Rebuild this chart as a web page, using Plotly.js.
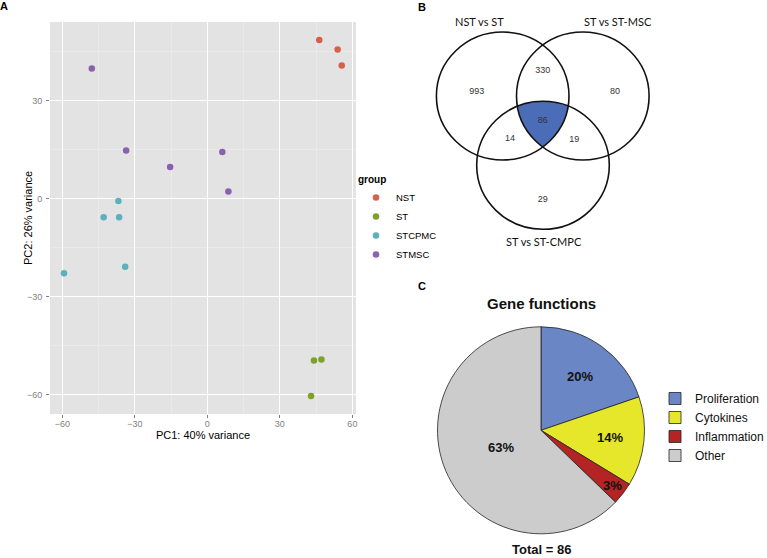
<!DOCTYPE html>
<html><head><meta charset="utf-8">
<script src="https://cdn.plot.ly/plotly-3.0.1.min.js"></script>
<style>html,body{margin:0;padding:0;background:#fff}</style>
</head><body><div id="chart" style="width:767px;height:558px"></div>
<script>
// ---------- Panel A: PCA data ----------
const groups = ['NST', 'ST', 'STCPMC', 'STMSC'];
const nstPC1 = [46.3, 53.9, 55.6];
const nstPC2 = [48.5, 45.6, 40.7];
const stPC1 = [44.1, 47.2, 42.9];
const stPC2 = [-49.6, -49.3, -60.5];
const stcpmcPC1 = [-36.8, -42.9, -36.5, -34.0, -59.3];
const stcpmcPC2 = [-0.8, -5.8, -5.8, -20.9, -22.9];
const stmscPC1 = [-47.8, -33.6, -15.4, 6.2, 8.7];
const stmscPC2 = [39.8, 14.7, 9.6, 14.2, 2.1];
const pcTicks = [-60, -30, 0, 30, 60];

// ---------- Panel B: Venn counts ----------
const vennSets = ['NST vs ST', 'ST vs ST-MSC', 'ST vs ST-CMPC'];
const vennRegions = ['1', '12', '2', '123', '13', '23', '3'];
const vennCounts = [993, 330, 80, 86, 14, 19, 29];

// ---------- Panel C: gene functions ----------
const funcLabels = ['Proliferation', 'Cytokines', 'Inflammation', 'Other'];
const funcCounts = [17, 12, 3, 54];
const totalGenes = 86;

// ---------- layout geometry (pixels) ----------
const W = 767, H = 558;
const px = x => x / W, py = y => 1 - y / H;
const groupColors = ['#d7604d', '#7ca22a', '#5cb0bd', '#8b61ad'];
const funcColors = ['#6a86c4', '#e6e62a', '#b42424', '#cccccc'];
const circles = [
  {cx: 502.7, cy: 96, rx: 66.3, ry: 64},
  {cx: 582.8, cy: 96, rx: 66.3, ry: 64},
  {cx: 543.0, cy: 165.3, rx: 66.3, ry: 64}
];
const regionPos = {'1': [476.7, 91.7], '12': [542.7, 71], '2': [615, 92], '123': [542.7, 121],
                   '13': [510, 138.3], '23': [574.3, 140], '3': [542.7, 200]};
const setLabelPos = [[480, 21.7], [618.3, 21.7], [544, 241.7]];
const pieLabelRadius = [0.64, 0.67, 0.87, 0.42];

const F = 'Liberation Sans, Arial, sans-serif';
const traces = [];
const pcX = [nstPC1, stPC1, stcpmcPC1, stmscPC1];
const pcY = [nstPC2, stPC2, stcpmcPC2, stmscPC2];
groups.forEach((g, i) => {
  traces.push({type: 'scatter', mode: 'markers', name: g, x: pcX[i], y: pcY[i],
    xaxis: 'x', yaxis: 'y', legend: 'legend',
    marker: {color: groupColors[i], size: 6.5}});
});

// Venn triple intersection region (computed from circle geometry)
function inside(c, x, y) { return ((x - c.cx) / c.rx) ** 2 + ((y - c.cy) / c.ry) ** 2 <= 1 + 1e-9; }
let pts = [];
circles.forEach((c, i) => {
  const N = 3000;
  for (let k = 0; k < N; k++) {
    const t = 2 * Math.PI * k / N;
    const x = c.cx + c.rx * Math.cos(t), y = c.cy + c.ry * Math.sin(t);
    if (circles.every((d, j) => j === i || inside(d, x, y))) pts.push([x, y]);
  }
});
const mx = pts.reduce((s, p) => s + p[0], 0) / pts.length;
const my = pts.reduce((s, p) => s + p[1], 0) / pts.length;
pts.sort((a, b) => Math.atan2(a[1] - my, a[0] - mx) - Math.atan2(b[1] - my, b[0] - mx));
pts.push(pts[0]);
traces.push({type: 'scatter', mode: 'lines', x: pts.map(p => p[0]), y: pts.map(p => p[1]),
  xaxis: 'x2', yaxis: 'y2', fill: 'toself', fillcolor: '#4b6cb7', line: {width: 0},
  showlegend: false, hoverinfo: 'skip'});
traces.push({type: 'scatter', mode: 'text', xaxis: 'x2', yaxis: 'y2', showlegend: false,
  x: vennRegions.map(r => regionPos[r][0]), y: vennRegions.map(r => regionPos[r][1]),
  text: vennCounts.map(String), textfont: {family: F, size: 9, color: '#333'}, hoverinfo: 'skip'});

// Pie
const pcx = 541, pcy = 430.3, pr = 103.5;
traces.push({type: 'pie', labels: funcLabels, values: funcCounts, sort: false,
  direction: 'clockwise', rotation: 0, legend: 'legend2',
  marker: {colors: funcColors, line: {color: '#222', width: 0.8}},
  textinfo: 'none',
  domain: {x: [px(pcx - pr), px(pcx + pr)], y: [py(pcy + pr), py(pcy - pr)]},
  hoverinfo: 'label+value'});

const shapes = [{type: 'rect', xref: 'x domain', yref: 'y domain', x0: 0, x1: 1, y0: 0, y1: 1,
  fillcolor: '#e3e3e3', line: {width: 0}, layer: 'below'}];
circles.forEach(c => shapes.push({type: 'circle', xref: 'x2', yref: 'y2',
  x0: c.cx - c.rx, x1: c.cx + c.rx, y0: c.cy - c.ry, y1: c.cy + c.ry,
  line: {color: '#111', width: 1.6}, fillcolor: 'rgba(0,0,0,0)'}));

const annotations = [
  {text: '<b>A</b>', x: px(4), y: py(6)},
  {text: '<b>B</b>', x: px(422), y: py(7)},
  {text: '<b>C</b>', x: px(422), y: py(286)},
].map(a => Object.assign({xref: 'paper', yref: 'paper', showarrow: false, xanchor: 'center', yanchor: 'middle',
  font: {family: F, size: 11, color: '#000'}}, a));
annotations.push({text: 'PC2: 26% variance', xref: 'paper', yref: 'paper', x: px(28), y: py(218),
  textangle: -90, xanchor: 'center', yanchor: 'middle', showarrow: false,
  font: {family: F, size: 11, color: '#000'}});
vennSets.forEach((s, i) => annotations.push({text: s, xref: 'x2', yref: 'y2',
  x: setLabelPos[i][0], y: setLabelPos[i][1], showarrow: false, xanchor: 'center',
  font: {family: 'Lato, Open Sans, sans-serif', size: 11, color: '#111'}}));
annotations.push({text: '<b>Gene functions</b>', xref: 'paper', yref: 'paper', x: px(541.7), y: py(303),
  xanchor: 'center', yanchor: 'middle', showarrow: false, font: {family: F, size: 15, color: '#111'}});
annotations.push({text: '<b>Total = ' + totalGenes + '</b>', xref: 'paper', yref: 'paper', x: px(541), y: py(549.5),
  xanchor: 'center', yanchor: 'middle', showarrow: false, font: {family: F, size: 13, color: '#111'}});

// pie percentage labels, placed on each slice's bisector
const tot = funcCounts.reduce((a, b) => a + b, 0);
let cum = 0;
funcCounts.forEach((v, i) => {
  const mid = (cum + v / 2) / tot * 2 * Math.PI;
  cum += v;
  const r = pr * pieLabelRadius[i];
  annotations.push({text: '<b>' + Math.round(v / tot * 100) + '%</b>', xref: 'paper', yref: 'paper',
    x: px(pcx + r * Math.sin(mid)), y: py(pcy - r * Math.cos(mid)), xanchor: 'center', yanchor: 'middle',
    showarrow: false, font: {family: F, size: 13, color: '#111'}});
});

const axBase = {tickvals: pcTicks, ticks: 'outside', ticklen: 3, tickcolor: '#7f7f7f', tickwidth: 1,
  tickfont: {family: F, size: 9, color: '#7f7f7f'}, showgrid: true, gridcolor: '#ffffff', gridwidth: 1,
  zeroline: false, showline: false, fixedrange: true,
  minor: {tickvals: [-75, -45, -15, 15, 45], showgrid: true, gridcolor: '#f1f1f1', gridwidth: 0.5, ticks: ''}};

const layout = {
  width: W, height: H, margin: {l: 0, r: 0, t: 0, b: 0, autoexpand: false},
  paper_bgcolor: '#fff', plot_bgcolor: 'rgba(0,0,0,0)', hovermode: false,
  font: {family: F},
  xaxis: Object.assign({}, axBase, {domain: [px(50), px(356)], range: [-65.1, 61.5], ticklabelstandoff: -2,
    title: {text: 'PC1: 40% variance', font: {family: F, size: 11, color: '#000'}, standoff: 0}}),
  yaxis: Object.assign({}, axBase, {domain: [py(414), py(22)], range: [-66.0, 54.0], ticklabelstandoff: 2}),
  xaxis2: {domain: [px(425), px(665)], range: [425, 665], visible: false, fixedrange: true},
  yaxis2: {domain: [py(250), py(0)], range: [250, 0], visible: false, fixedrange: true},
  legend: {title: {text: '<b>group</b>', font: {family: F, size: 10, color: '#000'}},
    x: px(356), y: py(170), xanchor: 'left', yanchor: 'top', tracegroupgap: 0,
    font: {family: F, size: 9.5, color: '#000'}, bgcolor: 'rgba(0,0,0,0)'},
  legend2: {x: px(655), y: py(384), xanchor: 'left', yanchor: 'top',
    font: {family: F, size: 12, color: '#111'}, bgcolor: 'rgba(0,0,0,0)'},
  shapes: shapes, annotations: annotations
};
Plotly.newPlot('chart', traces, layout, {staticPlot: true});
</script></body></html>
